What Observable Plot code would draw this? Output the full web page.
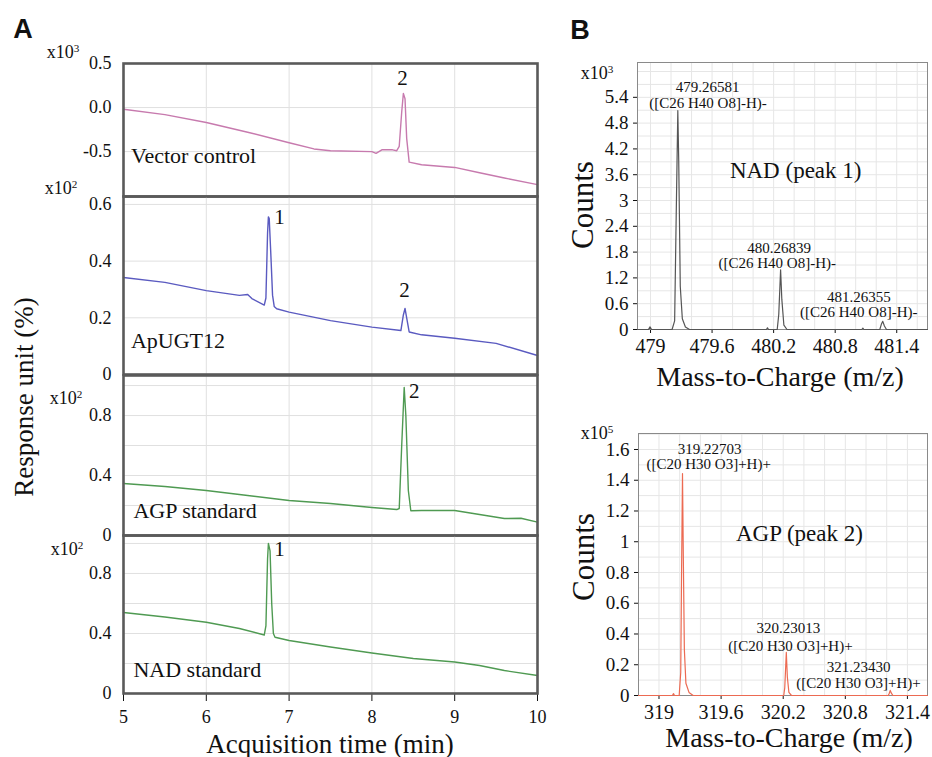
<!DOCTYPE html>
<html><head><meta charset="utf-8">
<script src="https://cdn.jsdelivr.net/npm/d3@7"></script>
<script src="https://cdn.jsdelivr.net/npm/@observablehq/plot@0.6"></script>
<style>
body{margin:0;background:#fff;}
#fig{position:relative;width:932px;height:757px;overflow:hidden;font-family:'Liberation Serif','Times New Roman',serif;color:#111;}
#fig svg, #fig svg text, #fig svg g{font-family:'Liberation Serif','Times New Roman',serif !important;}
.p{position:absolute;}
.t{position:absolute;transform:translate(-50%,-50%);white-space:nowrap;line-height:1;font-family:'Liberation Serif','Times New Roman',serif;}
.r{transform:translate(-50%,-50%) rotate(-90deg);}
.m{font-size:18px}
.m sup{font-size:0.62em;vertical-align:0.5em;line-height:0}
.h{font-family:'Liberation Sans',Arial,sans-serif !important;font-weight:bold;font-size:27px}
</style></head><body><div id="fig"></div>
<script>
// ---------- Panel A: chromatograms (time in min, response) ----------
const timeTicks = [5, 6, 7, 8, 9, 10];
const vectorControl = [ // x10^3
  [5.0,-0.02],[5.5,-0.08],[6.0,-0.17],[6.5,-0.28],[7.0,-0.40],[7.3,-0.47],[7.5,-0.49],
  [8.0,-0.50],[8.05,-0.52],[8.12,-0.48],[8.25,-0.48],[8.30,-0.49],[8.33,-0.44],[8.36,-0.05],
  [8.38,0.16],[8.40,0.10],[8.42,-0.35],[8.45,-0.62],[8.6,-0.65],[9.0,-0.68],[9.3,-0.74],
  [9.6,-0.80],[10.0,-0.875]
];
const apUGT12 = [ // x10^2
  [5.0,0.342],[5.5,0.325],[6.0,0.296],[6.4,0.279],[6.5,0.282],[6.55,0.268],[6.70,0.245],
  [6.72,0.27],[6.74,0.50],[6.75,0.556],[6.76,0.55],[6.78,0.42],[6.80,0.28],[6.82,0.24],
  [6.85,0.232],[7.0,0.22],[7.5,0.19],[8.0,0.167],[8.35,0.155],[8.38,0.21],[8.40,0.233],
  [8.42,0.20],[8.45,0.15],[8.6,0.14],[9.0,0.128],[9.5,0.11],[10.0,0.067]
];
const agpStandard = [ // x10^2
  [5.0,0.347],[5.5,0.327],[6.0,0.30],[6.5,0.267],[7.0,0.233],[7.5,0.213],[8.0,0.187],
  [8.3,0.173],[8.33,0.18],[8.36,0.60],[8.39,0.987],[8.41,0.80],[8.44,0.30],[8.47,0.165],
  [8.6,0.167],[9.0,0.167],[9.3,0.14],[9.6,0.113],[9.8,0.115],[10.0,0.089]
];
const nadStandard = [ // x10^2
  [5.0,0.54],[5.5,0.51],[6.0,0.475],[6.4,0.433],[6.70,0.39],[6.72,0.45],[6.74,0.90],
  [6.75,1.0],[6.77,0.95],[6.79,0.60],[6.81,0.40],[6.83,0.375],[7.0,0.353],[7.5,0.31],
  [8.0,0.27],[8.5,0.233],[9.0,0.21],[9.3,0.187],[9.6,0.153],[10.0,0.12]
];

// ---------- Panel B: mass spectra (m/z, counts) ----------
const nadMzTicks = [479, 479.6, 480.2, 480.8, 481.4];
const nadCountTicks = [0, 0.6, 1.2, 1.8, 2.4, 3, 3.6, 4.2, 4.8, 5.4];
const nadSpectrum = [ // x10^3
  [478.873,0],[478.98,0],[478.995,0.06],[479.01,0],[479.21,0],[479.235,0.2],[479.25,2.6],
  [479.266,5.09],[479.275,3.9],[479.29,1.0],[479.31,0.25],[479.34,0.06],[479.38,0],
  [480.13,0],[480.14,0.04],[480.15,0],[480.235,0],[480.25,0.35],[480.268,1.39],[480.28,0.7],
  [480.30,0.1],[480.33,0],[481.06,0],[481.07,0.03],[481.08,0],[481.235,0],[481.25,0.12],
  [481.264,0.19],[481.28,0.08],[481.30,0],[481.70,0]
];
const nadPeakLabels = [
  ["479.26581","([C26 H40 O8]-H)-"],
  ["480.26839","([C26 H40 O8]-H)-"],
  ["481.26355","([C26 H40 O8]-H)-"]
];
const agpMzTicks = [319, 319.6, 320.2, 320.8, 321.4];
const agpCountTicks = [0, 0.2, 0.4, 0.6, 0.8, 1, 1.2, 1.4, 1.6];
const agpSpectrum = [ // x10^5
  [318.802,0],[319.13,0],[319.14,0.012],[319.15,0],[319.195,0],[319.21,0.15],[319.218,0.8],
  [319.227,1.444],[319.235,0.9],[319.245,0.3],[319.26,0.08],[319.29,0.02],[319.33,0],
  [320.205,0],[320.215,0.05],[320.23,0.28],[320.24,0.12],[320.255,0.02],[320.28,0],
  [321.215,0],[321.225,0.015],[321.234,0.033],[321.245,0.015],[321.26,0],[321.594,0]
];
const agpPeakLabels = [
  ["319.22703","([C20 H30 O3]+H)+"],
  ["320.23013","([C20 H30 O3]+H)+"],
  ["321.23430","([C20 H30 O3]+H)+"]
];

const fig = document.getElementById("fig");
const serif = "'Liberation Serif','Times New Roman',serif";
const styleStr = size => `background:transparent;font-family:${serif};font-size:${size}px;color:#111;overflow:visible;`;
const gx = d => d[0], gy = d => d[1];

function place(node, left, top) {
  node.setAttribute("font-family", serif);
  node.classList.add("p");
  node.style.position = "absolute";
  node.style.left = left + "px";
  node.style.top = top + "px";
  fig.appendChild(node);
}
function txt(html, x, y, cls, extra) {
  const d = document.createElement("div");
  d.className = "t " + (cls || "");
  d.innerHTML = html;
  d.style.left = x + "px";
  d.style.top = y + "px";
  if (extra) Object.assign(d.style, extra);
  fig.appendChild(d);
}

const fmt1 = d => d.toFixed(1);
const fmt0 = d => d === 0 ? "0" : d.toFixed(1);

function panelA(o) {
  return Plot.plot({
    width: 545, height: o.mt + o.inner + o.mb,
    marginLeft: 123, marginRight: 8, marginTop: o.mt, marginBottom: o.mb,
    style: styleStr(18),
    x: {domain: [5, 10], axis: o.xAxis ? "bottom" : null, ticks: timeTicks, tickSize: 8, tickPadding: 9, label: null, tickFormat: d => String(d)},
    y: {domain: o.yDomain, ticks: o.yTicks, tickFormat: o.fmt, tickSize: 0, tickPadding: 12, label: null},
    marks: [
      Plot.ruleX([6, 7, 8, 9], {stroke: "#e0e0e0"}),
      Plot.ruleY(o.yGrid, {stroke: "#e0e0e0"}),
      Plot.line(o.data, {x: gx, y: gy, stroke: o.color, strokeWidth: 1.4}),
      Plot.text([o.label], {x: o.lx, y: o.ly, text: d => d, textAnchor: "start", fontSize: 22, fill: "#111", fontFamily: serif}),
      Plot.text(o.peaks, {x: gx, y: gy, text: d => d[2], fontSize: 21, fill: "#111", fontFamily: serif}),
      Plot.frame({stroke: "#5a5a5a", strokeWidth: 2.6})
    ]
  });
}

place(panelA({data: vectorControl, color: "#c77aae", yDomain: [-1.01, 0.5], yTicks: [-0.5, 0, 0.5], yGrid: [-0.5, 0], fmt: fmt1,
  label: "Vector control", lx: 5.09, ly: -0.55, peaks: [[8.37, 0.335, "2"]], mt: 13, inner: 133, mb: 3}), 0, 50);
place(panelA({data: apUGT12, color: "#5a5ac0", yDomain: [0, 0.628], yTicks: [0, 0.2, 0.4, 0.6], yGrid: [0.2, 0.4, 0.6], fmt: fmt0,
  label: "ApUGT12", lx: 5.09, ly: 0.12, peaks: [[6.884, 0.555, "1"], [8.394, 0.296, "2"]], mt: 10, inner: 178, mb: 3}), 0, 186);
place(panelA({data: agpStandard, color: "#4f9a52", yDomain: [0, 1.067], yTicks: [0, 0.4, 0.8], yGrid: [0.2, 0.4, 0.6, 0.8, 1.0], fmt: fmt0,
  label: "AGP standard", lx: 5.12, ly: 0.167, peaks: [[8.51, 0.96, "2"]], mt: 10, inner: 160, mb: 3}), 0, 365);
place(panelA({data: nadStandard, color: "#4f9a52", yDomain: [0, 1.053], yTicks: [0, 0.4, 0.8], yGrid: [0.2, 0.4, 0.6, 0.8, 1.0], fmt: fmt0,
  label: "NAD standard", lx: 5.12, ly: 0.16, peaks: [[6.884, 0.963, "1"]], mt: 10, inner: 158, mb: 40, xAxis: true}), 0, 525);

function panelB(o) {
  return Plot.plot({
    width: 372, height: o.mt + o.inner + o.mb,
    marginLeft: o.ml, marginRight: 5, marginTop: o.mt, marginBottom: o.mb,
    style: styleStr(19),
    x: {domain: o.xDomain, ticks: o.xTicks, tickFormat: d => String(d), tickSize: 4, tickPadding: 5, label: null},
    y: {domain: o.yDomain, ticks: o.yTicks, tickFormat: d => String(d), tickSize: 4, tickPadding: 5, label: null},
    marks: [
      Plot.ruleX(o.gridX, {stroke: "#e6e6e6"}),
      Plot.ruleY(o.gridY, {stroke: "#e6e6e6"}),
      Plot.frame({stroke: "#8a8a8a", strokeWidth: 1}),
      Plot.line(o.data, {x: gx, y: gy, stroke: o.color, strokeWidth: 1.2}),
      Plot.text(o.labels, {x: (d, i) => o.lpos[i][0], y: (d, i) => o.lpos[i][1], text: d => d[0], fontSize: 15, fill: "#111", fontFamily: serif}),
      Plot.text(o.labels, {x: (d, i) => o.lpos[i][2], y: (d, i) => o.lpos[i][3], text: d => d[1], fontSize: 15, fill: "#111", fontFamily: serif}),
      Plot.text([o.title], {x: o.tpos[0], y: o.tpos[1], text: d => d, fontSize: 23, fill: "#111", fontFamily: serif})
    ]
  });
}

const nadSvg = panelB({
  data: nadSpectrum, color: "#555555", ml: 77, mt: 22, inner: 267, mb: 32,
  xDomain: [478.873, 481.70], xTicks: nadMzTicks, yDomain: [0, 6.21], yTicks: nadCountTicks,
  gridX: d3.range(0, 14).map(i => 479 + i * 0.2), gridY: d3.range(1, 21).map(i => i * 0.3),
  labels: nadPeakLabels,
  lpos: [[479.556, 5.63, 479.56, 5.27], [480.253, 1.89, 480.235, 1.55], [481.03, 0.75, 481.03, 0.41]],
  title: "NAD (peak 1)", tpos: [480.415, 3.70]
});
place(nadSvg, 560, 40);

const agpSvg = panelB({
  data: agpSpectrum, color: "#ec6a52", ml: 78, mt: 23, inner: 262, mb: 32,
  xDomain: [318.802, 321.594], xTicks: agpMzTicks, yDomain: [0, 1.704], yTicks: agpCountTicks,
  gridX: d3.range(0, 14).map(i => 318.8 + i * 0.2).filter(v => v > 318.81 && v < 321.59), gridY: d3.range(1, 18).map(i => i * 0.1),
  labels: agpPeakLabels,
  lpos: [[319.488, 1.60, 319.48, 1.505], [320.251, 0.435, 320.27, 0.318], [320.928, 0.186, 320.928, 0.078]],
  title: "AGP (peak 2)", tpos: [320.357, 1.05]
});
place(agpSvg, 560, 410);

// x tick labels in B are a little larger than y tick labels
for (const svg of [nadSvg, agpSvg]) {
  svg.querySelectorAll("g[aria-label='x-axis tick label'] text, g[aria-label='x-axis'] text").forEach(t => t.setAttribute("font-size", "20"));
}

// ---------- Text outside the plots ----------
txt("A", 23, 29, "h");
txt("B", 580, 30, "h");
txt("Response unit (%)", 24, 397, "r", {fontSize: "27px"});
txt("Acquisition time (min)", 330, 744, "", {fontSize: "27px"});
txt("Counts", 582, 205, "r", {fontSize: "31px"});
txt("Counts", 583, 557, "r", {fontSize: "31px"});
txt("Mass-to-Charge (m/z)", 780, 377, "", {fontSize: "28px"});
txt("Mass-to-Charge (m/z)", 789, 738, "", {fontSize: "28px"});
txt("x10<sup>3</sup>", 63, 52, "m");
txt("x10<sup>2</sup>", 61, 188, "m");
txt("x10<sup>2</sup>", 66, 398, "m");
txt("x10<sup>2</sup>", 67, 549, "m");
txt("x10<sup>3</sup>", 597, 73, "m");
txt("x10<sup>5</sup>", 597, 433, "m");
</script></body></html>
